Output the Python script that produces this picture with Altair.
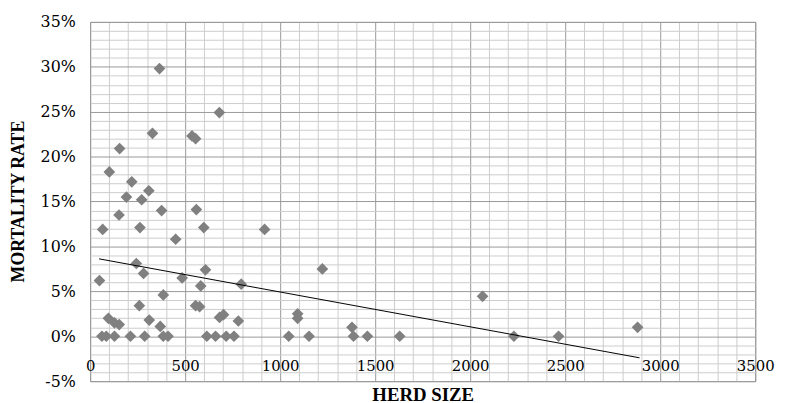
import altair as alt
import pandas as pd

# ---- data ----
herd_size = [365, 680, 328, 536, 555, 155, 101, 219, 309, 191,
             271, 376, 559, 152, 66, 262, 598, 918, 450, 243,
             281, 484, 49, 607, 582, 795, 1222, 2065, 385, 259,
             555, 576, 96, 128, 153, 311, 369, 681, 702, 780,
             1092, 1092, 1378, 2881,
             62, 85, 128, 212, 287, 385, 410,
             614, 660, 716, 757, 1045, 1152,
             1386, 1459, 1629, 2230, 2465]
mortality_pct = [29.8, 24.9, 22.6, 22.3, 22.0, 20.9, 18.3, 17.2, 16.2, 15.5,
                 15.2, 14.0, 14.1, 13.5, 11.9, 12.1, 12.1, 11.9, 10.8, 8.1,
                 7.0, 6.5, 6.2, 7.4, 5.6, 5.8, 7.5, 4.45, 4.6, 3.4,
                 3.4, 3.3, 2.0, 1.5, 1.3, 1.8, 1.1, 2.1, 2.4, 1.7,
                 2.5, 2.0, 1.0, 1.0,
                 0, 0, 0, 0, 0, 0, 0,
                 0, 0, 0, 0, 0, 0,
                 0, 0, 0, 0, 0]
# linear trendline end points (as drawn in the reference)
trend_herd = [47, 2891]
trend_pct = [8.62, -2.40]

x_ticks = list(range(0, 3501, 100))
y_ticks_pct = list(range(-5, 36))

points = pd.DataFrame({"herd": herd_size, "rate": [v / 100 for v in mortality_pct]})
trend = pd.DataFrame({"herd": trend_herd, "rate": [v / 100 for v in trend_pct]})

FONT = "Liberation Serif"
LABEL_FONT = "DejaVu Serif"
MAJOR = "#999999"
MINOR = "#cccccc"

x_axis = alt.Axis(
    values=x_ticks,
    title="HERD SIZE",
    labelExpr="datum.value % 500 === 0 ? '' + datum.value : ''",
    labelOverlap=False,
    labelFlush=False,
    ticks=False,
    domain=False,
    labelPadding=-11,
    labelBaseline="alphabetic",
    labelFont=LABEL_FONT,
    labelFontSize=15,
    labelColor="black",
    titleFont=FONT,
    titleFontSize=19,
    titleFontWeight="bold",
    titleColor="black",
    titleX=336,
    titleY=20,
    titleAlign="center",
    titleBaseline="alphabetic",
    grid=True,
    gridWidth=1,
    gridColor={"condition": {"test": "datum.value % 500 === 0", "value": MAJOR}, "value": MINOR},
)

y_axis = alt.Axis(
    values=[v / 100 for v in y_ticks_pct],
    title="MORTALITY RATE",
    labelExpr="abs(round(datum.value * 100) % 5) === 0 ? round(datum.value * 100) + '%' : ''",
    labelOverlap=False,
    ticks=False,
    domain=False,
    labelPadding=15,
    labelFont=LABEL_FONT,
    labelFontSize=16,
    labelColor="black",
    titleFont=FONT,
    titleFontSize=18,
    titleFontWeight="bold",
    titleColor="black",
    titleAngle=270,
    titleX=-72,
    titleY=181,
    titleAlign="center",
    titleBaseline="middle",
    grid=True,
    gridWidth=1,
    gridColor={"condition": {"test": "abs(round(datum.value * 100) % 5) === 0", "value": MAJOR}, "value": MINOR},
)

x_enc = alt.X("herd:Q", scale=alt.Scale(domain=[0, 3500], nice=False), axis=x_axis)
y_enc = alt.Y("rate:Q", scale=alt.Scale(domain=[-0.05, 0.35], nice=False), axis=y_axis)

pts = alt.Chart(points).mark_point(
    shape="diamond", filled=True, size=140, color="#808080", opacity=1, strokeWidth=0
).encode(x=x_enc, y=y_enc)

line = alt.Chart(trend).mark_line(color="black", strokeWidth=1).encode(x=x_enc, y=y_enc)

chart = alt.layer(pts, line).properties(
    width=672,
    height=363,
    padding={"left": 83, "top": 12, "right": 22, "bottom": 20},
    autosize=alt.AutoSizeParams(type="none"),
).configure_view(stroke=MAJOR, strokeWidth=1)

chart.save("out.html", embed_options={"renderer": "svg", "actions": False})
